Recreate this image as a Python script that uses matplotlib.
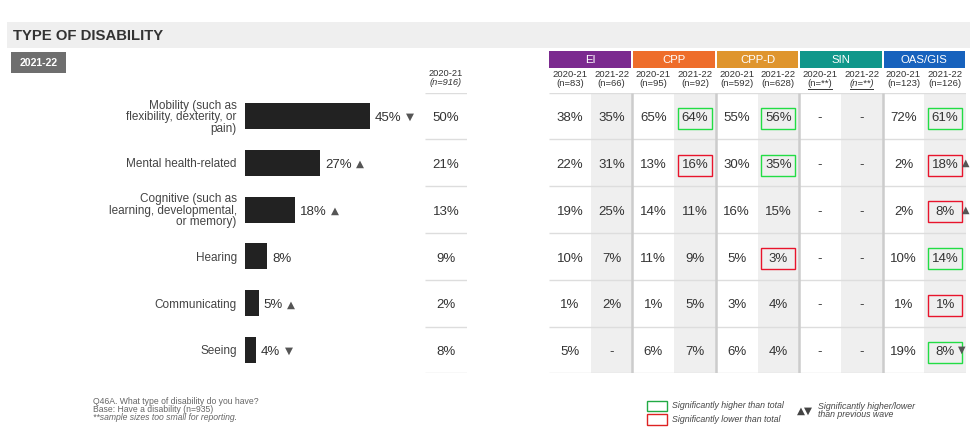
import matplotlib
matplotlib.use('Agg')
import matplotlib.pyplot as plt
from matplotlib.patches import Rectangle

W, H = 979, 441
plt.rcParams['font.family'] = ['Liberation Sans', 'DejaVu Sans']

# ---------------- data ----------------
title = 'TYPE OF DISABILITY'
wave_label = '2021-22'
categories = ['Mobility (such as\nflexibility, dexterity, or\npain)',
              'Mental health-related',
              'Cognitive (such as\nlearning, developmental,\nor memory)',
              'Hearing', 'Communicating', 'Seeing']
values_2122 = [45, 27, 18, 8, 5, 4]
trend_2122 = ['down', 'up', 'up', '', 'up', 'down']
prev_year = '2020-21'
prev_n = '(n=916)'
values_2021 = [50, 21, 13, 9, 2, 8]

groups = ['EI', 'CPP', 'CPP-D', 'SIN', 'OAS/GIS']
group_colors = ['#7b2a8f', '#ee6d2b', '#df952d', '#10978a', '#1762bd']
sub_years = ['2020-21', '2021-22'] * 5
sub_n = ['(n=83)', '(n=66)', '(n=95)', '(n=92)', '(n=592)', '(n=628)',
         '(n=**)', '(n=**)', '(n=123)', '(n=126)']

ei_2021 = [38, 22, 19, 10, 1, 5]
ei_2122 = [35, 31, 25, 7, 2, None]
cpp_2021 = [65, 13, 14, 11, 1, 6]
cpp_2122 = [64, 16, 11, 9, 5, 7]
cppd_2021 = [55, 30, 16, 5, 3, 6]
cppd_2122 = [56, 35, 15, 3, 4, 4]
sin_2021 = [None, None, None, None, None, None]
sin_2122 = [None, None, None, None, None, None]
oas_2021 = [72, 2, 2, 10, 1, 19]
oas_2122 = [61, 18, 8, 14, 1, 8]

cpp_2122_sig = ['H', 'L', '', '', '', '']
cppd_2122_sig = ['H', 'H', '', 'L', '', '']
oas_2122_sig = ['H', 'L', 'L', 'H', 'L', 'H']
oas_2122_trend = ['', 'up', 'up', '', '', 'down']

table_cols = [ei_2021, ei_2122, cpp_2021, cpp_2122, cppd_2021, cppd_2122,
              sin_2021, sin_2122, oas_2021, oas_2122]
sig_cols = {3: cpp_2122_sig, 5: cppd_2122_sig, 9: oas_2122_sig}
trend_cols = {9: oas_2122_trend}

footnote = ['Q46A. What type of disability do you have?',
            'Base: Have a disability (n=935)',
            '**sample sizes too small for reporting.']
legend_high = 'Significantly higher than total'
legend_low = 'Significantly lower than total'
legend_trend = 'Significantly higher/lower\nthan previous wave'

# ---------------- styles ----------------
GREEN = '#22dd44'
RED = '#e8142c'
TXT = '#333333'
TRI = '#555555'
TRI_SYM = {'up': '\u25B2', 'down': '\u25BC'}
NUM_FS = 9.5


def rect(x0, y0, x1, y1):
    return [x0 / W, 1 - y1 / H, (x1 - x0) / W, (y1 - y0) / H]


fig = plt.figure(figsize=(W / 100, H / 100), dpi=100)

# overlay in pixel coordinates for decorations
ov = fig.add_axes([0, 0, 1, 1])
ov.set_xlim(0, W)
ov.set_ylim(H, 0)
ov.axis('off')

ov.add_patch(Rectangle((7, 22), 963, 26, color='#efefef', lw=0))
ov.text(13, 35.5, title, fontsize=10.7, fontweight='bold', color='#333333',
        va='center', ha='left')
ov.add_patch(Rectangle((11, 52), 55, 21, color='#6e6e6e', lw=0))
ov.text(38.5, 62.5, wave_label, fontsize=7.6, fontweight='bold', color='white',
        va='center', ha='center')

# footnote
for k, line in enumerate(footnote):
    ov.text(93, 401.5 + 8 * k, line, fontsize=6.2, color='#666666', va='center',
            ha='left', style='italic' if k == 2 else 'normal')

# legend
ov.add_patch(Rectangle((647, 401), 20, 10, fill=False, ec='#22aa44', lw=1))
ov.add_patch(Rectangle((647, 414), 20, 11, fill=False, ec='#dd2222', lw=1))
ov.text(672, 405.5, legend_high, fontsize=6.3, style='italic', color='#444444', va='center')
ov.text(672, 419, legend_low, fontsize=6.3, style='italic', color='#444444', va='center')
ov.text(797, 410.5, '\u25B2\u25BC', fontsize=7.5, color='#444444', va='center',
        family=['DejaVu Sans'])
ov.text(818, 410.5, legend_trend, fontsize=6.3, style='italic', color='#444444',
        va='center', linespacing=0.95)

# ---------------- bar chart ----------------
ROW_TOP, ROW_BOT = 92.6, 373.3
bx = fig.add_axes(rect(245, ROW_TOP, 245 + 278, ROW_BOT))
bx.patch.set_visible(False)
bx.set_xlim(0, 100)
bx.set_ylim(5.5, -0.5)
bx.barh(range(len(values_2122)), values_2122, height=0.555, color='#222222')
bx.set_yticks(range(len(categories)))
bx.set_yticklabels(categories, fontsize=8.5, color='#444444')
for lbl in bx.get_yticklabels():
    lbl.set_linespacing(0.95)
bx.tick_params(axis='y', length=0, pad=6)
bx.set_xticks([])
for s in bx.spines.values():
    s.set_visible(False)
for i, v in enumerate(values_2122):
    t = bx.text(v + 1.8, i + 0.05, f'{v}%', fontsize=NUM_FS, color=TXT, va='center', ha='left')
    if trend_2122[i]:
        bx.annotate(TRI_SYM[trend_2122[i]], xy=(1, 0.5), xycoords=t,
                    xytext=(3, 0.8), textcoords='offset points', fontsize=7.5,
                    color=TRI, va='center', ha='left', family=['DejaVu Sans'])

# ---------------- previous wave column ----------------
pw = fig.add_axes(rect(425, ROW_TOP, 467, ROW_BOT))
pw.patch.set_visible(False)
pw.set_xlim(0, 1)
pw.set_ylim(6, 0)
pw.axis('off')
pw.hlines(range(7), 0, 1, color='#dddddd', lw=1)
pw.text(0.5, -0.41, prev_year, fontsize=6.7, color=TXT, ha='center', va='center', clip_on=False)
pw.text(0.5, -0.21, prev_n, fontsize=6.7, color=TXT, ha='center', va='center',
        style='italic', clip_on=False)
for i, v in enumerate(values_2021):
    pw.text(0.5, i + 0.55, f'{v}%', fontsize=NUM_FS, color=TXT, ha='center', va='center')

# ---------------- table ----------------
tab = fig.add_axes(rect(549, ROW_TOP, 966, ROW_BOT))
tab.patch.set_visible(False)
tab.set_xlim(0, 10)
tab.set_ylim(6, 0)
tab.axis('off')
for c in range(1, 10, 2):
    tab.axvspan(c, c + 1, color='#efefef', lw=0, zorder=0)
tab.hlines(range(7), 0, 10, color='#dddddd', lw=1, zorder=1)
tab.vlines([2, 4, 6, 8], 0, 6, color='#cccccc', lw=1.8, zorder=1)

hdr_top = (51 - ROW_TOP) / 46.78
hdr_bot = (68.5 - ROW_TOP) / 46.78
for g, (name, col) in enumerate(zip(groups, group_colors)):
    x0 = 2 * g + (0.025 if g > 0 else 0)
    x1 = 2 * g + 2 - 0.025
    tab.add_patch(Rectangle((x0, hdr_top), x1 - x0, hdr_bot - hdr_top, color=col,
                            lw=0, clip_on=False))
    tab.text(2 * g + 1, (hdr_top + hdr_bot) / 2, name, fontsize=8.2, color='white',
             ha='center', va='center', clip_on=False)

for c in range(10):
    tab.text(c + 0.5, -0.385, sub_years[c], fontsize=6.8, color=TXT, ha='center',
             va='center', clip_on=False)
    italic = sub_n[c] == '(n=**)' and c % 2 == 1
    tab.text(c + 0.5, -0.195, sub_n[c], fontsize=6.8, color=TXT, ha='center',
             va='center', clip_on=False, style='italic' if italic else 'normal')
    if sub_n[c] == '(n=**)':
        tab.plot([c + 0.22, c + 0.78], [-0.085, -0.085], color=TXT, lw=0.7, clip_on=False)

for c, col in enumerate(table_cols):
    for r, v in enumerate(col):
        s = '-' if v is None else f'{v}%'
        tab.text(c + 0.5, r + 0.55, s, fontsize=NUM_FS, color=TXT, ha='center',
                 va='center', zorder=3)
        if c in sig_cols and sig_cols[c][r]:
            ec = GREEN if sig_cols[c][r] == 'H' else RED
            tab.add_patch(Rectangle((c + 0.5 - 0.41, r + 0.55 - 0.225), 0.82, 0.45,
                                    fill=False, ec=ec, lw=1, zorder=4))
        if c in trend_cols and trend_cols[c][r]:
            tr = trend_cols[c][r]
            tab.text(c + 0.5 + (0.49 if tr == 'up' else 0.4), r + 0.5, TRI_SYM[tr],
                     fontsize=7, color=TRI, ha='center', va='center',
                     family=['DejaVu Sans'], clip_on=False, zorder=5)

fig.savefig('out.png', dpi=100)
